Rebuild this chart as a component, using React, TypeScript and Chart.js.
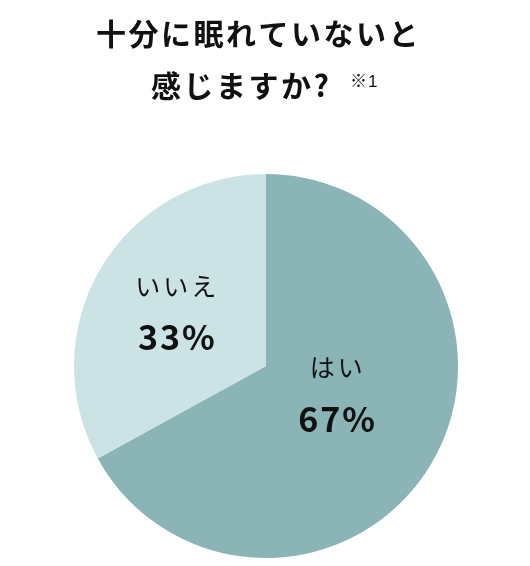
import React, { useRef, useEffect } from 'react';
import { Chart, registerables, Plugin } from 'chart.js';

Chart.register(...registerables);

// 回答データ
const categories = ['はい', 'いいえ'];
const values = [67, 33];
const colors = ['#8ab4b5', '#cce3e6'];

const titleLines = ['十分に眠れていないと', '感じますか?'];
const titleNote = '※1';

const JP_FONT = '"Noto Sans CJK JP", "Noto Sans", sans-serif';

// ラベル位置の微調整 (tooltipPosition からのずれ)
const labelOffsets = [
  { x: -13, y: -21 },
  { x: -8, y: -5 },
];

const titlePlugin: Plugin<'pie'> = {
  id: 'jpTitle',
  afterDraw(chart) {
    const ctx = chart.ctx;
    ctx.save();
    ctx.fillStyle = '#111';
    ctx.textBaseline = 'middle';
    ctx.textAlign = 'left';
    ctx.font = `bold 30px ${JP_FONT}`;
    (ctx as any).letterSpacing = '2.5px';
    ctx.fillText(titleLines[0], 96, 34);
    ctx.fillText(titleLines[1], 151, 86);
    ctx.font = `17px "Liberation Sans", ${JP_FONT}`;
    (ctx as any).letterSpacing = '1px';
    ctx.fillText(titleNote, 350, 82);
    ctx.restore();
  },
};

const sliceLabelPlugin: Plugin<'pie'> = {
  id: 'sliceLabels',
  afterDatasetsDraw(chart) {
    const ctx = chart.ctx;
    const meta = chart.getDatasetMeta(0);
    ctx.save();
    ctx.fillStyle = '#111';
    ctx.textAlign = 'center';
    ctx.textBaseline = 'middle';
    meta.data.forEach((arc, i) => {
      const pos = (arc as any).tooltipPosition(false);
      const x = pos.x + labelOffsets[i].x;
      const y = pos.y + labelOffsets[i].y;
      ctx.font = `25px ${JP_FONT}`;
      (ctx as any).letterSpacing = '3px';
      ctx.fillText(categories[i], x + 2, y - 26);
      ctx.font = `bold 34px ${JP_FONT}`;
      (ctx as any).letterSpacing = '2px';
      ctx.fillText(`${values[i]}%`, x + 2, y + 25);
    });
    ctx.restore();
  },
};

const App: React.FC = () => {
  const chartRef = useRef<HTMLCanvasElement>(null);
  const chartInstance = useRef<Chart<'pie'> | null>(null);

  useEffect(() => {
    if (!chartRef.current) return;
    if (chartInstance.current) chartInstance.current.destroy();

    const ctx = chartRef.current.getContext('2d');
    if (!ctx) return;

    chartInstance.current = new Chart(ctx, {
      type: 'pie',
      data: {
        labels: categories,
        datasets: [
          {
            data: values,
            backgroundColor: colors,
            borderWidth: 0,
          },
        ],
      },
      options: {
        animation: false,
        responsive: true,
        maintainAspectRatio: false,
        layout: {
          padding: { top: 174, bottom: 8, left: 74, right: 72 },
        },
        plugins: {
          legend: { display: false },
          title: { display: false },
          tooltip: { enabled: false },
        },
      },
      plugins: [titlePlugin, sliceLabelPlugin],
    });

    return () => {
      if (chartInstance.current) {
        chartInstance.current.destroy();
        chartInstance.current = null;
      }
    };
  }, []);

  return (
    <div style={{ position: 'fixed', left: 0, top: 0, width: '530px', height: '566px', background: '#fff' }}>
      <canvas ref={chartRef} />
    </div>
  );
};

export default App;
